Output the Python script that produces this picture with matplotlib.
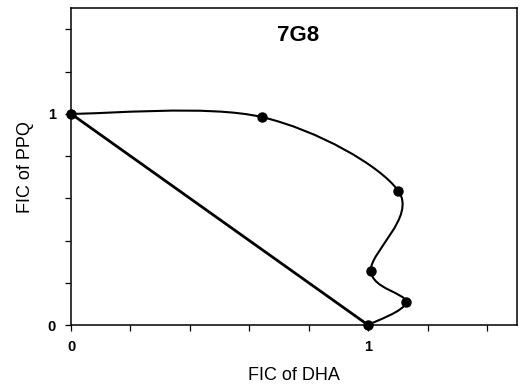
import matplotlib
matplotlib.use("Agg")
import matplotlib.pyplot as plt
from matplotlib.path import Path
from matplotlib.patches import PathPatch
import numpy as np

plt.rcParams['font.family'] = ['Liberation Sans', 'DejaVu Sans']

# isobologram points, FIC of DHA vs FIC of PPQ
fic_dha = [0.0, 0.644, 1.102, 1.009, 1.127, 1.0]
fic_ppq = [1.0, 0.984, 0.634, 0.257, 0.109, 0.0]

additive_x = [0.0, 1.0]
additive_y = [1.0, 0.0]

title = "7G8"


def smooth_path(xs, ys):
    # catmull-rom style smoothing, written as cubic bezier segments
    pts = np.column_stack([xs, ys])
    n = len(pts)
    verts = [pts[0]]
    codes = [Path.MOVETO]
    for i in range(n - 1):
        p0 = pts[i - 1] if i > 0 else pts[i]
        p1 = pts[i]
        p2 = pts[i + 1]
        p3 = pts[i + 2] if i + 2 < n else pts[i + 1]
        c1 = p1 + (p2 - p0) / 6.0
        c2 = p2 - (p3 - p1) / 6.0
        verts += [c1, c2, p2]
        codes += [Path.CURVE4] * 3
    return Path(verts, codes)


fig = plt.figure(figsize=(5.3, 3.87), dpi=100)
ax = fig.add_axes([0.134, 0.160, 0.841, 0.819])

ax.plot(additive_x, additive_y, color='black', lw=2.0, solid_capstyle='round')
ax.add_patch(PathPatch(smooth_path(fic_dha, fic_ppq), facecolor='none',
                       edgecolor='black', lw=1.5))
ax.plot(fic_dha, fic_ppq, 'o', color='black', ms=6.5, clip_on=False, zorder=5)

ax.set_xlim(0, 1.5)
ax.set_ylim(0, 1.5)
ticks = np.arange(0, 1.5, 0.2)
labels = ['0' if t == 0 else '1' if abs(t - 1) < 1e-9 else '' for t in ticks]
ax.set_xticks(ticks)
ax.set_yticks(ticks)
ax.set_xticklabels(labels)
ax.set_yticklabels(labels)
ax.tick_params(direction='out', length=4, width=0.9, labelsize=10.5, pad=7)
for lab in ax.get_xticklabels() + ax.get_yticklabels():
    lab.set_fontweight('bold')
for s in ax.spines.values():
    s.set_linewidth(1.1)

ax.set_xlabel("FIC of DHA", fontsize=13, labelpad=9)
ax.set_ylabel("FIC of PPQ", fontsize=13, labelpad=10)
ax.text(0.509, 0.915, title, transform=ax.transAxes, ha='center', va='center',
        fontsize=16, fontweight='bold')

fig.savefig("out.png", dpi=100)
